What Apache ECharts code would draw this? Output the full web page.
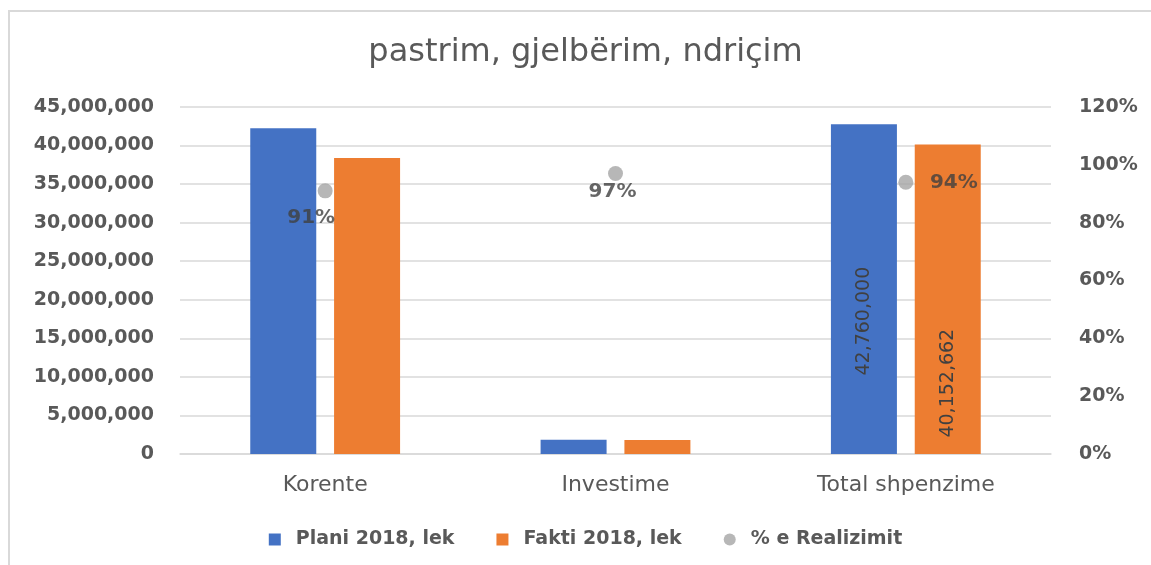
<!DOCTYPE html>
<html>
<head>
<meta charset="utf-8">
<title>pastrim, gjelbërim, ndriçim</title>
<script src="https://cdn.jsdelivr.net/npm/echarts@6/dist/echarts.min.js"></script>
<style>
  html, body { margin: 0; padding: 0; background: #fff; overflow: hidden; }
  #chart_ref {
    position: absolute;
    left: 8px;
    top: 10px;
    width: 1151px;
    height: 565px;
    border-left: 2px solid #d9d9d9;
    border-top: 2px solid #d9d9d9;
  }
</style>
</head>
<body>
<div id="chart_ref"></div>
<script>
const categories = ['Korente', 'Investime', 'Total shpenzime']
const planiValues = [42230000, 1850000, 42760000]
const faktiValues = [38380000, 1820000, 40152662]
const realizimValues = [0.91, 0.97, 0.94]
const seriesNames = ['Plani 2018, lek', 'Fakti 2018, lek', '% e Realizimit']

const fontName = 'DejaVu Sans'
const numFmt = v => Math.round(v).toLocaleString('en-US')
const pctFmt = v => Math.round(v * 100) + '%'

// vetem "Total shpenzime" ka etikete vlere ne shtylla (offset ne koordinata te rrotulluara)
const barLabelOffsets = [[-32, 0], [-84, 0]]
const pointLabelOffsets = [[-14, 27], [-3, 18], [48, 1]]

const chartInstance = echarts.init(document.getElementById('chart_ref'))

const barData = (values, k) => values.map((v, i) => ({
  value: v,
  label: {
    show: i === 2,
    position: 'inside',
    rotate: 90,
    offset: barLabelOffsets[k],
    formatter: arg => numFmt(arg.value),
    color: '#404040',
    fontFamily: fontName,
    fontSize: 19
  }
}))

const option = {
  animation: false,
  textStyle: { fontFamily: fontName },
  title: {
    text: 'pastrim, gjelbërim, ndriçim',
    left: 'center',
    top: 20,
    textStyle: {
      fontFamily: fontName,
      fontSize: 32,
      fontWeight: 'normal',
      color: '#595959'
    }
  },
  legend: {
    top: 513,
    left: 'center',
    itemWidth: 12,
    itemHeight: 12,
    itemGap: 42,
    textStyle: {
      fontFamily: fontName,
      fontSize: 19,
      fontWeight: 'bold',
      color: '#595959',
      padding: [0, 0, 0, 10]
    },
    data: [
      { name: seriesNames[0], icon: 'rect' },
      { name: seriesNames[1], icon: 'rect' },
      { name: seriesNames[2], icon: 'circle' }
    ]
  },
  grid: {
    left: 170,
    right: 110,
    top: 95,
    bottom: 123
  },
  xAxis: {
    type: 'category',
    data: categories,
    axisTick: { show: false },
    axisLine: { lineStyle: { color: '#d9d9d9', width: 1.5 } },
    axisLabel: {
      margin: 20,
      fontFamily: fontName,
      fontSize: 22,
      color: '#595959'
    }
  },
  yAxis: [
    {
      type: 'value',
      min: 0,
      max: 45000000,
      interval: 5000000,
      axisLine: { show: false },
      axisTick: { show: false },
      splitLine: { lineStyle: { color: '#d9d9d9', width: 1.5 } },
      axisLabel: {
        margin: 26,
        formatter: v => numFmt(v),
        fontFamily: fontName,
        fontSize: 19,
        fontWeight: 'bold',
        color: '#595959'
      }
    },
    {
      type: 'value',
      min: 0,
      max: 1.2,
      interval: 0.2,
      axisLine: { show: false },
      axisTick: { show: false },
      splitLine: { show: false },
      axisLabel: {
        margin: 28,
        formatter: v => pctFmt(v),
        fontFamily: fontName,
        fontSize: 19,
        fontWeight: 'bold',
        color: '#595959'
      }
    }
  ],
  series: [
    {
      name: seriesNames[0],
      type: 'bar',
      barWidth: 66,
      barGap: '27%',
      itemStyle: { color: '#4472C4' },
      data: barData(planiValues, 0)
    },
    {
      name: seriesNames[1],
      type: 'bar',
      barWidth: 66,
      barGap: '27%',
      itemStyle: { color: '#ED7D31' },
      data: barData(faktiValues, 1)
    },
    {
      name: seriesNames[2],
      type: 'scatter',
      yAxisIndex: 1,
      symbolSize: 15,
      itemStyle: { color: '#A5A5A5' },
      z: 5,
      data: realizimValues.map((v, i) => ({
        value: v,
        label: {
          show: true,
          position: 'inside',
          offset: pointLabelOffsets[i],
          formatter: arg => pctFmt(arg.value),
          color: '#404040',
          fontFamily: fontName,
          fontSize: 20,
          fontWeight: 'bold'
        }
      }))
    }
  ]
}

chartInstance.setOption(option)
</script>
</body>
</html>
